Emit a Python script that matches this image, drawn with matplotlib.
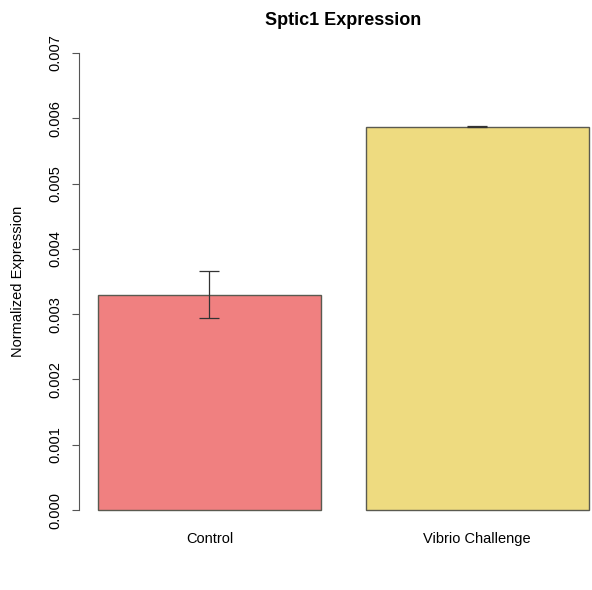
import matplotlib
matplotlib.use("Agg")
import matplotlib.pyplot as plt

plt.rcParams['font.family'] = ['Liberation Sans', 'DejaVu Sans']

# values
groups = ["Control", "Vibrio Challenge"]
means = [0.00330, 0.00587]
errors = [0.00036, 0.00001]
colors = ["#F08080", "#EEDB80"]
yticks = [0.000, 0.001, 0.002, 0.003, 0.004, 0.005, 0.006, 0.007]

fig = plt.figure(figsize=(5.92, 5.90), dpi=100)
ax = fig.add_axes([79 / 592, 61.7 / 590, 513 / 592, 493.6 / 590])

# R barplot style: width 1, space 0.2
pos = [0.7, 1.9]
ax.bar(pos, means, width=1.0, color=colors, edgecolor="#5a5a50", linewidth=1.0)
ax.errorbar(pos, means, yerr=errors, fmt="none", ecolor="#333333",
            elinewidth=0.9, capsize=7.2, capthick=0.9)

ax.set_xlim(0.115, 2.415)
ax.set_ylim(-0.00028, 0.00728)

ax.set_yticks(yticks)
ax.set_yticklabels([f"{v:.3f}" for v in yticks], rotation=90, va="center", fontsize=10.5)
ax.tick_params(axis="y", length=5, width=0.8, color="#555555", pad=7)
ax.set_xticks(pos)
ax.set_xticklabels(groups, fontsize=10.5)
ax.tick_params(axis="x", length=0, pad=2.5)

for s in ["top", "right", "bottom"]:
    ax.spines[s].set_visible(False)
ax.spines["left"].set_bounds(0, 0.007)
ax.spines["left"].set_color("#555555")
ax.spines["left"].set_linewidth(0.8)

fig.text(18 / 592, 1 - 281 / 590, "Normalized Expression", rotation=90,
         ha="center", va="center", fontsize=10.5)
fig.text(343.5 / 592, 1 - 25 / 590, "Sptic1 Expression", ha="center",
         va="baseline", fontsize=13, fontweight="bold")

fig.savefig("out.png", dpi=100)
